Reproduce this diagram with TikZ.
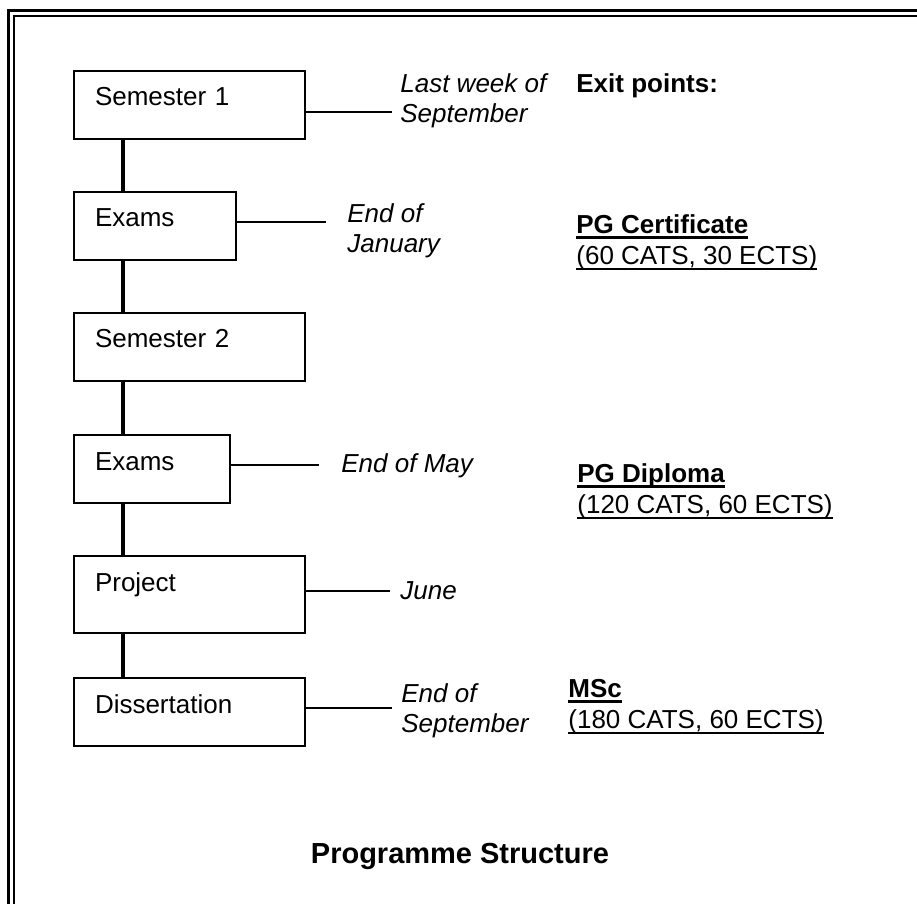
\documentclass[tikz,border=0pt]{standalone}
\usepackage{fontspec}
\setmainfont{Liberation Sans}

% underline with a rule of given thickness
\newcommand{\ulrule}[2]{\setbox0\hbox{#2}\rlap{\rule[-3.2pt]{\wd0}{#1}}\box0}

\begin{document}
\begin{tikzpicture}[x=0.5pt, y=-0.5pt,
		stage/.style={draw, line width=1pt, anchor=north west, inner xsep=10.5pt, inner ysep=0pt,
			text width=#1, align=left, text height=17.5pt, text depth=16.5pt,
			font=\fontsize{13}{15}\selectfont},
		stage/.default=94.5pt,
		spine/.style={line width=2pt},
		tick/.style={line width=1pt},
		date/.style={anchor=base west, inner sep=0pt, align=left, font=\fontsize{13}{15}\selectfont\itshape},
		exit/.style={anchor=base west, inner sep=0pt, align=left, font=\fontsize{13}{15.5}\selectfont}]
		\useasboundingbox (0,0) rectangle (917,904);

		% double frame, cut at right and bottom
		\draw[line width=1.5pt] (8.8,904) -- (8.8,11) -- (917,11);
		\draw[line width=1pt] (14,904) -- (14,16.3) -- (917,16.3);

		% stages
		\node[stage] (sem1) at (73,70) {Semester 1};
		\node[stage=60pt] (exam1) at (73,191) {Exams};
		\node[stage] (sem2) at (73,312) {Semester 2};
		\node[stage=57pt] (exam2) at (73,434) {Exams};
		\node[stage, text depth=21pt] (proj) at (73,555) {Project};
		\node[stage] (diss) at (73,677) {Dissertation};

		\foreach \a/\b in {sem1/exam1, exam1/sem2, sem2/exam2, exam2/proj, proj/diss}
			\draw[spine] ([xshift=25pt]\a.south west) -- ([xshift=25pt]\b.north west);

		% dates (base = last line)
		\coordinate (t1) at (392,112);
		\coordinate (t2) at (326,222);
		\coordinate (t3) at (319,465);
		\coordinate (t4) at (390,591);
		\coordinate (t5) at (392,708);
		\draw[tick] (sem1.east |- t1) -- (t1);
		\draw[tick] (exam1.east |- t2) -- (t2);
		\draw[tick] (exam2.east |- t3) -- (t3);
		\draw[tick] (proj.east |- t4) -- (t4);
		\draw[tick] (diss.east |- t5) -- (t5);

		\node[date] (d1) at (400,123) {Last week of\\September};
		\node[date] (d2) at (347,253) {End of\\January};
		\node[date] (d3) at (341,472) {End of May};
		\node[date] (d4) at (400,599) {June};
		\node[date] (d5) at (401,732) {End of\\September};

		% exit points
		\node[exit] (x0) at (576,93) {\textbf{Exit points:}};
		\node[exit] (x1) at (576,264) {\ulrule{1.5pt}{\textbf{PG Certificate}}\\\ulrule{1pt}{(60 CATS, 30 ECTS)}};
		\node[exit] (x2) at (577,513) {\ulrule{1.5pt}{\textbf{PG Diploma}}\\\ulrule{1pt}{(120 CATS, 60 ECTS)}};
		\node[exit] (x3) at (568,728) {\ulrule{1.5pt}{\textbf{MSc}}\\\ulrule{1pt}{(180 CATS, 60 ECTS)}};

		\node[anchor=base, inner sep=0pt, font=\fontsize{14.5}{17}\selectfont\bfseries] (title) at (460,863) {Programme Structure};
	\end{tikzpicture}
\end{document}
